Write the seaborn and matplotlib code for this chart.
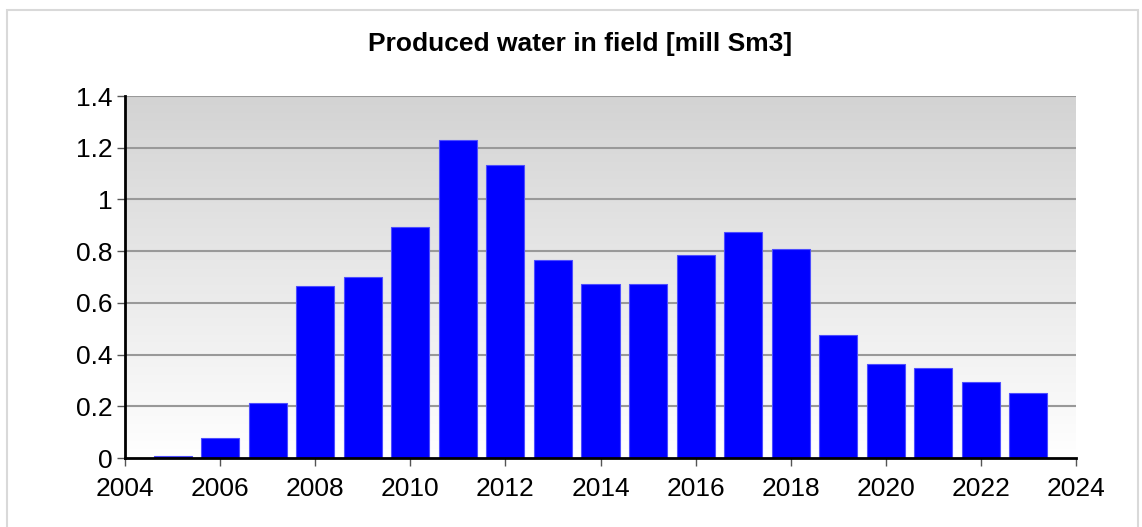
import numpy as np
import pandas as pd
import matplotlib
matplotlib.use("Agg")
import matplotlib.pyplot as plt
import seaborn as sns
from matplotlib.patches import Rectangle

years = [2005, 2006, 2007, 2008, 2009, 2010, 2011, 2012, 2013, 2014,
         2015, 2016, 2017, 2018, 2019, 2020, 2021, 2022, 2023]
water = [0.006, 0.078, 0.211, 0.665, 0.70, 0.893, 1.23, 1.133, 0.766, 0.673,
         0.673, 0.785, 0.874, 0.808, 0.476, 0.362, 0.347, 0.295, 0.252]
x_ticks = list(range(2004, 2025, 2))
y_ticks = [0, 0.2, 0.4, 0.6, 0.8, 1, 1.2, 1.4]
y_labels = ["0", "0.2", "0.4", "0.6", "0.8", "1", "1.2", "1.4"]

sns.set_style("white")
plt.rcParams['font.family'] = ['Liberation Sans', 'DejaVu Sans']

df = pd.DataFrame({"year": years, "water": water})

fig = plt.figure(figsize=(11.42, 5.27), dpi=100)
ax = fig.add_axes([125 / 1142, 1 - 458 / 527, 951 / 1142, 362 / 527])

# grey-to-white gradient background
grad = np.linspace(0, 1, 256).reshape(-1, 1)
ax.imshow(grad, extent=[0, 1, 0, 1], transform=ax.transAxes, aspect="auto",
          cmap=matplotlib.colors.LinearSegmentedColormap.from_list("bg", ["#ffffff", "#d3d3d3"]),
          origin="lower", zorder=0)

sns.barplot(data=df, x="year", y="water", native_scale=True, color="#0000ff",
            saturation=1, width=0.8, edgecolor="#4d4dff", linewidth=0.8, ax=ax, zorder=3)

ax.set_xlim(2004, 2024)
ax.set_ylim(0, 1.4)
ax.set_xticks(x_ticks)
ax.set_xticklabels([str(t) for t in x_ticks])
ax.set_yticks(y_ticks)
ax.set_yticklabels(y_labels)
ax.set_xlabel("")
ax.set_ylabel("")

for y in y_ticks[1:]:
    ax.axhline(y, color="#999999", linewidth=1.5, zorder=1)

for side in ["top", "right"]:
    ax.spines[side].set_visible(False)
for side in ["left", "bottom"]:
    ax.spines[side].set_color("black")
    ax.spines[side].set_linewidth(2)
    ax.spines[side].set_zorder(4)

ax.tick_params(axis="both", which="both", direction="out", length=6, width=1,
               color="#555555", labelsize=19, labelcolor="black",
               left=True, bottom=True)
ax.tick_params(axis="x", pad=8)
ax.tick_params(axis="y", pad=3)

fig.text(580 / 1142, 1 - 44 / 527, "Produced water in field [mill Sm3]",
         ha="center", va="center", fontsize=19, fontweight="bold", color="black")

fig.patches.append(Rectangle((7 / 1142, -0.01), 1131 / 1142, 1 - 10 / 527 + 0.01,
                             transform=fig.transFigure, fill=False,
                             edgecolor="#d9d9d9", linewidth=1.5))

fig.savefig("out.png", dpi=100)
